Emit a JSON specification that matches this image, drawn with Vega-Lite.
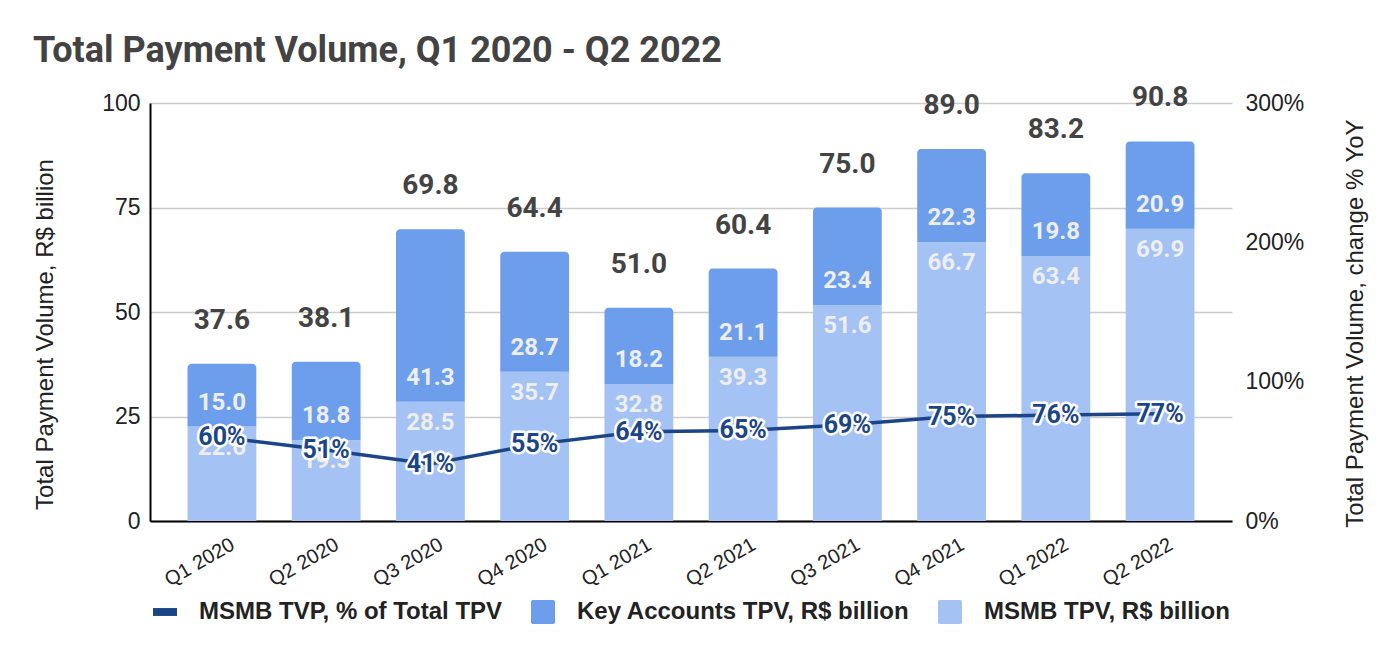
{
  "$schema": "https://vega.github.io/schema/vega-lite/v6.json",
  "width": 1082,
  "height": 418,
  "autosize": {"type": "none"},
  "padding": {"left": 150, "top": 103, "right": 168, "bottom": 137},
  "background": "white",
  "title": {
    "text": "Total Payment Volume, Q1 2020 - Q2 2022",
    "anchor": "start",
    "frame": "group",
    "dx": -117,
    "offset": -14,
    "baseline": "alphabetic",
    "font": "Roboto",
    "fontSize": 36,
    "fontWeight": "bold",
    "color": "#434343"
  },
  "config": {
    "view": {"stroke": null},
    "axis": {"labelFont": "Liberation Sans", "titleFont": "Liberation Sans", "labelColor": "#222222", "titleColor": "#222222", "titleFontWeight": "normal"}
  },
  "data": {
    "values": [
      {"q": "Q1 2020", "msmb": 22.6, "key": 15.0, "total": 37.6, "pct": 0.60},
      {"q": "Q2 2020", "msmb": 19.3, "key": 18.8, "total": 38.1, "pct": 0.51},
      {"q": "Q3 2020", "msmb": 28.5, "key": 41.3, "total": 69.8, "pct": 0.41},
      {"q": "Q4 2020", "msmb": 35.7, "key": 28.7, "total": 64.4, "pct": 0.55},
      {"q": "Q1 2021", "msmb": 32.8, "key": 18.2, "total": 51.0, "pct": 0.64},
      {"q": "Q2 2021", "msmb": 39.3, "key": 21.1, "total": 60.4, "pct": 0.65},
      {"q": "Q3 2021", "msmb": 51.6, "key": 23.4, "total": 75.0, "pct": 0.69},
      {"q": "Q4 2021", "msmb": 66.7, "key": 22.3, "total": 89.0, "pct": 0.75},
      {"q": "Q1 2022", "msmb": 63.4, "key": 19.8, "total": 83.2, "pct": 0.76},
      {"q": "Q2 2022", "msmb": 69.9, "key": 20.9, "total": 90.8, "pct": 0.77}
    ]
  },
  "encoding": {
    "x": {
      "field": "q",
      "type": "nominal",
      "sort": null,
      "scale": {"paddingInner": 0.34, "paddingOuter": 0.36},
      "axis": {
        "title": null,
        "labelAngle": -30,
        "labelFontSize": 20,
        "labelPadding": 13,
        "labelOffset": 6,
        "ticks": false,
        "domainColor": "#000000",
        "domainWidth": 2,
        "grid": false
      }
    }
  },
  "layer": [
    {
      "layer": [
        {
          "mark": {"type": "bar"},
          "encoding": {
            "y": {
              "field": "msmb",
              "type": "quantitative",
              "title": "Total Payment Volume, R$ billion",
              "scale": {"domain": [0, 100]},
              "axis": {
                "values": [0, 25, 50, 75, 100],
                "labelFontSize": 23,
                "labelPadding": 10,
                "ticks": false,
                "domainColor": "#000000",
                "domainWidth": 2,
                "gridColor": "#cccccc",
                "gridWidth": 1.5,
                "titleFontSize": 24,
                "titleX": -105,
                "titleY": 231,
                "titleAlign": "center",
                "titleBaseline": "middle",
                "titleAngle": -90
              }
            },
            "color": {
              "datum": "MSMB TPV, R$ billion",
              "type": "nominal",
              "scale": {
                "domain": ["MSMB TVP, % of Total TPV", "Key Accounts TPV, R$ billion", "MSMB TPV, R$ billion"],
                "range": ["#1c4587", "#6d9eeb", "#a4c2f4"]
              },
              "legend": {
                "title": null,
                "orient": "none",
                "direction": "horizontal",
                "legendX": 3,
                "legendY": 497,
                "padding": 0,
                "symbolSize": 576,
                "symbolStrokeWidth": 0,
                "labelFont": "Liberation Sans",
                "labelFontSize": 24,
                "labelFontWeight": "bold",
                "labelColor": "#222222",
                "labelOffset": 22,
                "labelLimit": 500,
                "columnPadding": 28,
                "encode": {
                  "symbols": {
                    "update": {
                      "shape": {"signal": "datum.value === 'MSMB TVP, % of Total TPV' ? 'M-1,-0.33H1V0.33H-1Z' : 'M-1,-0.85Q-1,-1,-0.85,-1H0.85Q1,-1,1,-0.85V0.85Q1,1,0.85,1H-0.85Q-1,1,-1,0.85Z'"},
                      "fill": {"scale": "color", "field": "value"},
                      "fillOpacity": {"value": 1},
                      "strokeWidth": {"value": 0}
                    }
                  }
                }
              }
            }
          }
        },
        {
          "mark": {"type": "bar", "cornerRadiusTopLeft": 4, "cornerRadiusTopRight": 4},
          "encoding": {
            "y": {"field": "total", "type": "quantitative", "title": "Total Payment Volume, R$ billion"},
            "y2": {"field": "msmb"},
            "color": {"datum": "Key Accounts TPV, R$ billion", "type": "nominal"}
          }
        },
        {
          "mark": {"type": "text", "font": "Roboto", "fontWeight": "bold", "fontSize": 24, "color": "#eeeeee", "dy": -24, "baseline": "middle"},
          "encoding": {
            "y": {"field": "msmb", "type": "quantitative", "title": "Total Payment Volume, R$ billion"},
            "text": {"field": "key", "type": "quantitative", "format": ".1f"}
          }
        },
        {
          "mark": {"type": "text", "font": "Roboto", "fontWeight": "bold", "fontSize": 24, "color": "#eeeeee", "dy": 21, "baseline": "middle"},
          "encoding": {
            "y": {"field": "msmb", "type": "quantitative", "title": "Total Payment Volume, R$ billion"},
            "text": {"field": "msmb", "type": "quantitative", "format": ".1f"}
          }
        },
        {
          "mark": {"type": "text", "font": "Roboto", "fontWeight": "bold", "fontSize": 28, "color": "#434343", "dy": -43, "baseline": "middle"},
          "encoding": {
            "y": {"field": "total", "type": "quantitative", "title": "Total Payment Volume, R$ billion"},
            "text": {"field": "total", "type": "quantitative", "format": ".1f"}
          }
        }
      ]
    },
    {
      "layer": [
        {
          "mark": {"type": "line", "strokeWidth": 3.5},
          "encoding": {
            "y": {
              "field": "pct",
              "type": "quantitative",
              "title": "Total Payment Volume, change % YoY",
              "scale": {"domain": [0, 3]},
              "axis": {
                "orient": "right",
                "values": [0, 1, 2, 3],
                "format": ".0%",
                "labelFontSize": 23,
                "labelPadding": 13,
                "labelAlign": "left",
                "ticks": false,
                "domain": false,
                "grid": false,
                "titleFontSize": 24,
                "titleX": 123,
                "titleY": 220,
                "titleAlign": "center",
                "titleBaseline": "middle",
                "titleAngle": -90
              }
            },
            "color": {"datum": "MSMB TVP, % of Total TPV", "type": "nominal"}
          }
        },
        {
          "mark": {"type": "text", "font": "Roboto", "fontWeight": "bold", "fontSize": 25, "fill": "#1c4587", "stroke": "#ffffff", "strokeWidth": 5, "strokeJoin": "round", "baseline": "middle"},
          "encoding": {
            "y": {"field": "pct", "type": "quantitative", "title": "Total Payment Volume, change % YoY"},
            "text": {"field": "pct", "type": "quantitative", "format": ".0%"}
          }
        },
        {
          "mark": {"type": "text", "font": "Roboto", "fontWeight": "bold", "fontSize": 25, "fill": "#1c4587", "baseline": "middle"},
          "encoding": {
            "y": {"field": "pct", "type": "quantitative", "title": "Total Payment Volume, change % YoY"},
            "text": {"field": "pct", "type": "quantitative", "format": ".0%"}
          }
        }
      ]
    }
  ],
  "resolve": {"scale": {"y": "independent"}}
}
